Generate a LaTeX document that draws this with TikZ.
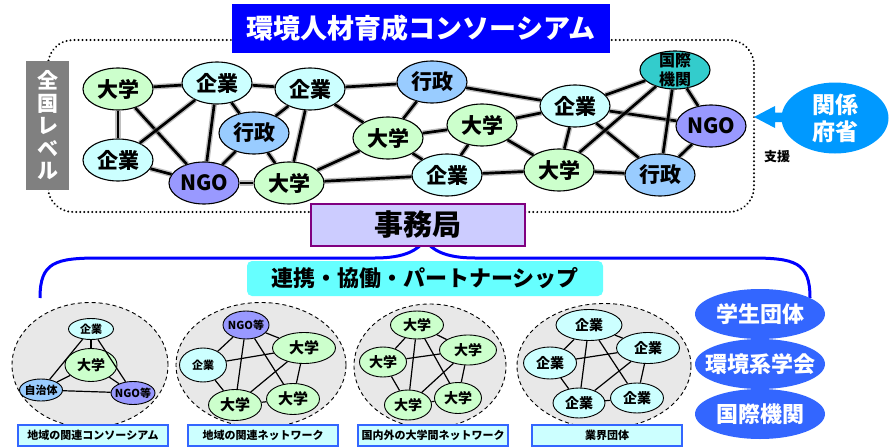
\documentclass[tikz,border=0pt]{standalone}
\usepackage{fontspec}
\setmainfont{Noto Sans CJK JP}[BoldFont={Noto Sans CJK JP Black}]
\usetikzlibrary{shapes.geometric}
\definecolor{uniG}{HTML}{CCFFCC}
\definecolor{kigC}{HTML}{CCFFFF}
\definecolor{gyoB}{HTML}{99CCFF}
\definecolor{ngoP}{HTML}{9999FF}
\definecolor{kokT}{HTML}{33CCCC}
\definecolor{titleB}{HTML}{0000FF}
\definecolor{lavF}{HTML}{CCCCFF}
\definecolor{purB}{HTML}{800080}
\definecolor{cyanF}{HTML}{66FFFF}
\definecolor{clGray}{HTML}{E8E8E8}
\definecolor{labB}{HTML}{3366FF}
\definecolor{blueR}{HTML}{3366FF}
\definecolor{skyB}{HTML}{0099FF}
\definecolor{grayL}{HTML}{808080}
\newcommand{\fs}[1]{\bfseries\fontsize{#1}{#1}\selectfont}
\tikzset{
  base/.style={ellipse, draw=black, line width=1.1pt, inner sep=-5pt},
  big/.style={base, minimum width=70pt, minimum height=42pt, font=\fs{21}},
  small/.style={base, line width=0.9pt, font=\fs{11}},
  mid/.style={base, line width=0.9pt, font=\fs{15}},
  daigaku/.style={fill=uniG}, kigyo/.style={fill=kigC}, gyosei/.style={fill=gyoB},
  ngo/.style={fill=ngoP}, kokusai/.style={fill=kokT},
  tedge/.style={line width=2.7pt, preaction={draw=gray, line width=5.5pt, opacity=0.5}},
  sedge/.style={line width=1.2pt},
  cluster/.style={ellipse, fill=clGray, draw=black, line width=0.9pt, dash pattern=on 4pt off 3pt, inner sep=0pt},
  labbox/.style={draw=labB, line width=2pt, fill=kigC, minimum width=150pt, minimum height=21pt, inner sep=0pt, font=\fs{11}},
  blueell/.style={ellipse, fill=blueR, text=white, minimum width=130pt, minimum height=50pt, inner sep=-10pt, font=\fs{22}},
}
\begin{document}
\begin{tikzpicture}[x=1pt,y=-1pt]
\useasboundingbox (0,0) rectangle (895,447);

% dotted frame
\draw[line width=2.2pt, dash pattern=on 0.01pt off 4pt, line cap=round, rounded corners=25pt] (48,40) rectangle (754,212);

% title and side label
\node[fill=titleB, text=white, font=\fs{27}, minimum width=378pt, minimum height=49pt, inner sep=0pt] (title) at (421,28.5) {環境人材育成コンソーシアム};
\node[fill=grayL, text=white, font=\bfseries\fontsize{21}{22.5}\selectfont, align=center, minimum width=43pt, minimum height=129pt, inner sep=0pt] (zenkoku) at (47.5,125.5) {全\\国\\レ\\ベ\\ル};

% top network nodes
\node[big,daigaku] (A1) at (118,89) {大学};
\node[big,kigyo] (B1) at (217,83) {企業};
\node[big,kigyo] (C1) at (310,89) {企業};
\node[big,gyosei] (D1) at (432,82) {行政};
\node[big,gyosei] (E1) at (254,133) {行政};
\node[big,kigyo] (F1) at (118,160) {企業};
\node[big,ngo] (G1) at (204,183) {NGO};
\node[big,daigaku] (H1) at (289,183) {大学};
\node[big,daigaku] (I1) at (388,138) {大学};
\node[big,daigaku] (J1) at (482,125) {大学};
\node[big,kigyo] (K1) at (447,175) {企業};
\node[big,kigyo] (L1) at (575,106) {企業};
\node[big,daigaku] (M1) at (559,170) {大学};
\node[big,kokusai,minimum height=38pt,align=center,font=\bfseries\fontsize{16}{19}\selectfont] (N1) at (675,70) {国際\\機関};
\node[big,ngo] (O1) at (711,126) {NGO};
\node[big,gyosei] (P1) at (660,175) {行政};

\foreach \a/\b in {A1/B1, B1/C1, C1/D1, A1/F1, A1/G1, B1/F1, B1/G1, B1/E1, F1/G1, G1/E1, G1/H1, E1/H1, C1/E1, C1/H1, C1/I1, H1/I1, H1/K1, D1/I1, I1/J1, I1/K1, J1/K1, D1/L1, J1/L1, J1/M1, K1/M1, L1/N1, L1/O1, L1/M1, L1/P1, M1/N1, N1/P1, N1/O1, O1/P1, M1/P1}
  \draw[tedge] (\a) -- (\b);

% ministries and support arrow
\fill[skyB] (754,117) -- (775,106) -- (775,112.5) -- (795,112.5) -- (795,122) -- (775,122) -- (775,128) -- cycle;
\node[ellipse, fill=skyB, text=white, minimum width=107pt, minimum height=71pt, inner sep=0pt, align=center, font=\bfseries\fontsize{23}{27}\selectfont] (kankei) at (835,118) {関係\\府省};
\node[font=\fs{13}] (shien) at (777,157) {支援};

% brace
\draw[titleB, line width=3pt] (40,298) .. controls (40,262) and (55,258) .. (100,258) -- (375,258) .. controls (405,258) and (418,250) .. (425,240)
  .. controls (432,250) and (445,258) .. (475,258) -- (750,258) .. controls (795,258) and (810,262) .. (810,298);

% secretariat
\node[draw=purB, line width=2pt, fill=lavF, minimum width=214pt, minimum height=42pt, inner sep=0pt, font=\fs{29}] (jimu) at (418,225) {事務局};
\node[fill=cyanF, rounded corners=5pt, minimum width=356pt, minimum height=35pt, inner sep=0pt, font=\fs{22}] (renkei) at (425,278.5) {連携・協働・パートナーシップ};

% clusters
\node[cluster, minimum width=156pt, minimum height=125pt] (cl1) at (90,365) {};
\node[cluster, minimum width=170pt, minimum height=125pt] (cl2) at (261,365) {};
\node[cluster, minimum width=152pt, minimum height=124pt] (cl3) at (430,366) {};
\node[cluster, minimum width=174pt, minimum height=125pt] (cl4) at (604,366) {};

% cluster 1
\node[small,kigyo,minimum width=45pt,minimum height=21pt] (a2) at (91,329) {企業};
\node[mid,daigaku,minimum width=52pt,minimum height=33pt,font=\fs{14}] (b2) at (91,365) {大学};
\node[small,gyosei,minimum width=43pt,minimum height=22pt] (c2) at (41,390) {自治体};
\node[small,ngo,minimum width=44pt,minimum height=23pt] (d2) at (133,393) {NGO等};
\foreach \a/\b in {a2/b2, a2/c2, a2/d2, b2/c2, b2/d2, c2/d2}
  \draw[sedge] (\a) -- (\b);

% cluster 2
\node[small,ngo,minimum width=46pt,minimum height=28pt] (p2a) at (246,325) {NGO等};
\node[mid,daigaku,minimum width=63pt,minimum height=31pt] (p2b) at (304,348) {大学};
\node[small,kigyo,minimum width=47pt,minimum height=34pt] (p2c) at (203,365) {企業};
\node[mid,daigaku,minimum width=53pt,minimum height=31pt] (p2d) at (235,405) {大学};
\node[mid,daigaku,minimum width=53pt,minimum height=31pt] (p2e) at (293,399) {大学};
\foreach \a/\b in {p2a/p2c, p2a/p2b, p2a/p2d, p2a/p2e, p2c/p2b, p2c/p2d, p2b/p2d, p2b/p2e, p2d/p2e}
  \draw[sedge] (\a) -- (\b);

% cluster 3
\node[mid,daigaku,minimum width=53pt,minimum height=28pt,font=\fs{14}] (p3a) at (417,325) {大学};
\node[mid,daigaku,minimum width=57pt,minimum height=30pt,font=\fs{14}] (p3b) at (468,350) {大学};
\node[mid,daigaku,minimum width=47pt,minimum height=30pt,font=\fs{14}] (p3c) at (383,362) {大学};
\node[mid,daigaku,minimum width=47pt,minimum height=30pt,font=\fs{14}] (p3d) at (408,405) {大学};
\node[mid,daigaku,minimum width=47pt,minimum height=31pt,font=\fs{14}] (p3e) at (458,398) {大学};
\foreach \a/\b in {p3a/p3c, p3a/p3b, p3a/p3d, p3a/p3e, p3c/p3b, p3c/p3d, p3b/p3d, p3b/p3e, p3d/p3e}
  \draw[sedge] (\a) -- (\b);

% cluster 4
\node[mid,kigyo,minimum width=66pt,minimum height=31pt,font=\fs{14}] (p4a) at (589,325) {企業};
\node[mid,kigyo,minimum width=63pt,minimum height=31pt,font=\fs{14}] (p4b) at (648,348) {企業};
\node[mid,kigyo,minimum width=53pt,minimum height=32pt,font=\fs{14}] (p4c) at (550,363) {企業};
\node[mid,kigyo,minimum width=52pt,minimum height=30pt,font=\fs{14}] (p4d) at (579,403) {企業};
\node[mid,kigyo,minimum width=53pt,minimum height=30pt,font=\fs{14}] (p4e) at (637,398) {企業};
\foreach \a/\b in {p4a/p4c, p4a/p4b, p4a/p4d, p4a/p4e, p4c/p4b, p4c/p4d, p4b/p4d, p4b/p4e, p4d/p4e}
  \draw[sedge] (\a) -- (\b);

% cluster labels
\node[labbox] (l1) at (93,435) {地域の関連コンソーシアム};
\node[labbox] (l2) at (263,435) {地域の関連ネットワーク};
\node[labbox] (l3) at (433,435) {国内外の大学間ネットワーク};
\node[labbox] (l4) at (607,435) {業界団体};

% right-hand groups
\node[blueell] (s1) at (760,314) {学生団体};
\node[blueell] (s2) at (760,364) {環境系学会};
\node[blueell] (s3) at (760,414) {国際機関};
\end{tikzpicture}
\end{document}
